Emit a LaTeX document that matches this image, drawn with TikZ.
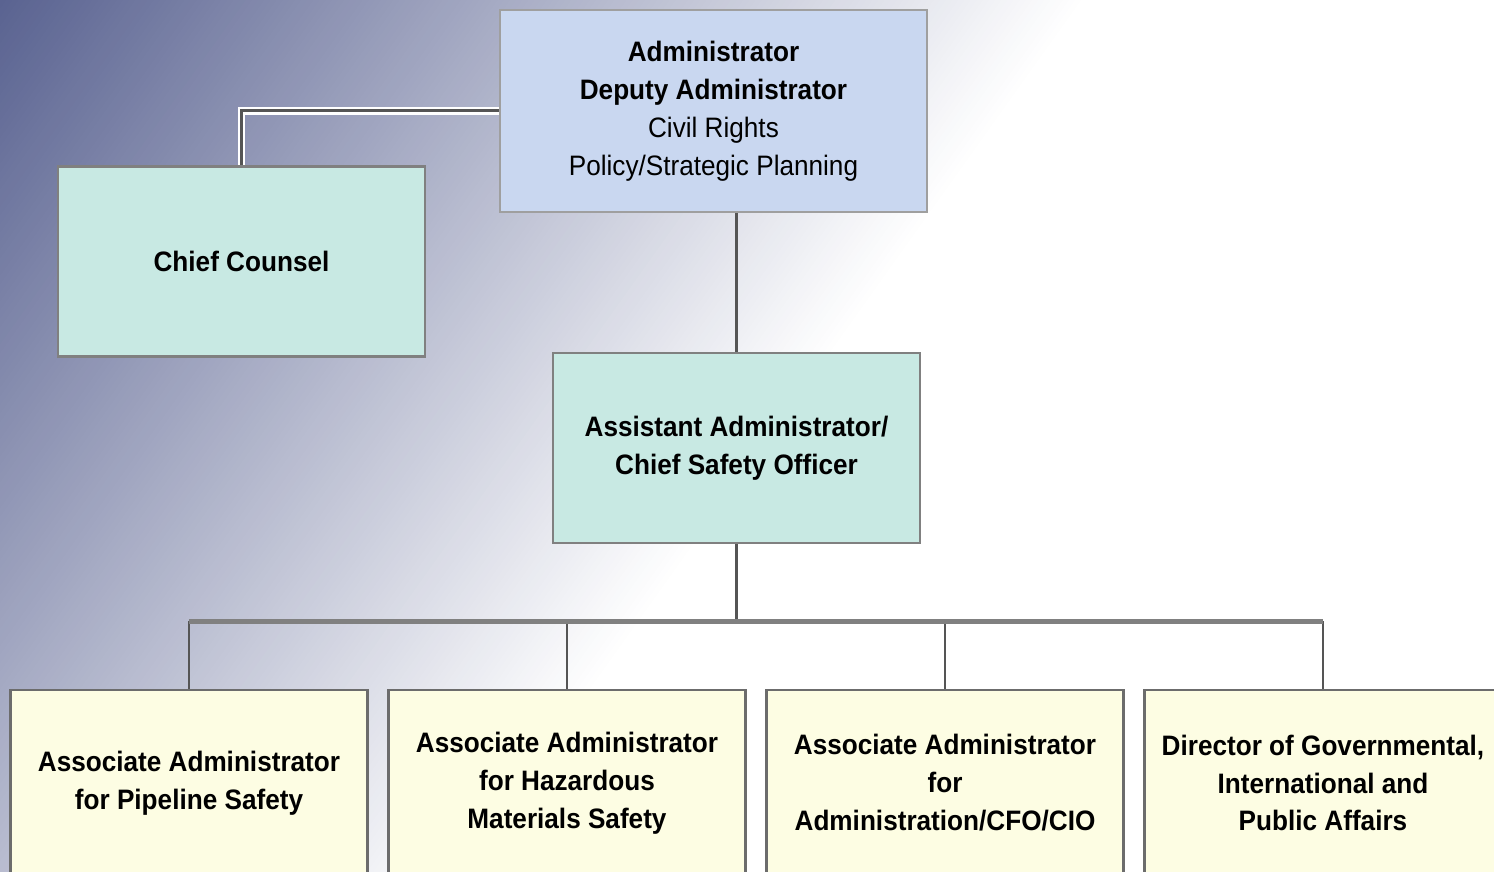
\documentclass[tikz,border=0pt]{standalone}
\usepackage{fontspec}
\setmainfont{Liberation Sans}[FakeStretch=0.93]
\usepackage{tikz}
\usepackage{xcolor}
\definecolor{bgdark}{HTML}{5A6391}
\definecolor{headfill}{HTML}{C9D7F0}
\definecolor{tealfill}{HTML}{C8E9E3}
\definecolor{creamfill}{HTML}{FDFDE3}
\definecolor{linegray}{HTML}{555555}
\tikzstyle{orgbox} = [rectangle, draw=gray, line width=0.8pt, align=center, inner sep=0pt, font=\fontsize{8}{10.8}\selectfont\bfseries]
\tikzstyle{headbox} = [orgbox, fill=headfill, draw=gray!75, minimum width=4.27cm, minimum height=2.02cm]
\tikzstyle{staffbox} = [orgbox, fill=tealfill, minimum width=3.67cm, minimum height=1.9cm]
\tikzstyle{unitbox} = [orgbox, fill=creamfill, draw=gray!85!black, minimum width=3.57cm, minimum height=1.86cm]
\tikzstyle{link} = [draw=linegray, line width=0.85pt]
\tikzstyle{buslink} = [draw=gray, line width=1.5pt]

\begin{document}
\begin{tikzpicture}[node distance=3.78cm]
  \useasboundingbox (0,0) rectangle (14.94,8.72);
  \clip (0,0) rectangle (14.94,8.72);
  % background fading from the upper left
  \fill[white] (0,0) rectangle (14.94,8.72);
  \begin{scope}[shift={(0,8.72)},rotate=-35.5]
    \foreach \t in {0,5,...,880} {
      \pgfmathsetmacro{\mix}{\t/8.8}
      \fill[white!\mix!bgdark] (\t/100,-12) rectangle (\t/100+0.06,12);
    }
  \end{scope}

  \node[headbox] (admin) at (7.135,7.61) {Administrator\\Deputy Administrator\\{\mdseries Civil Rights}\\{\mdseries Policy/Strategic Planning}};
  \node[staffbox] (counsel) at (2.415,6.105) {Chief Counsel};
  \node[staffbox] (asst) at (7.365,4.24) {Assistant Administrator/\\Chief Safety Officer};
  \node[unitbox] (pipe) at (1.89,0.89) {Associate Administrator\\for Pipeline Safety};
  \node[unitbox] (hazmat) [right of=pipe] {Associate Administrator\\for Hazardous\\Materials Safety};
  \node[unitbox] (cfo) [right of=hazmat] {Associate Administrator\\for\\Administration/CFO/CIO};
  \node[unitbox] (gov) [right of=cfo] {Director of Governmental,\\International and\\Public Affairs};

  \path[link, preaction={draw=white, line width=2.2pt}] (admin.west) -| (counsel.north);
  \path[link] (asst.north) -- (asst.north |- admin.south);
  \draw[link] (asst.south) -- ++(0,-0.77) coordinate (bus);
  \foreach \u in {pipe,hazmat,cfo,gov}
    \draw[link] (\u.north) -- (\u.north |- bus);
  \draw[buslink] (pipe.north |- bus) -- (gov.north |- bus);
\end{tikzpicture}
\end{document}
